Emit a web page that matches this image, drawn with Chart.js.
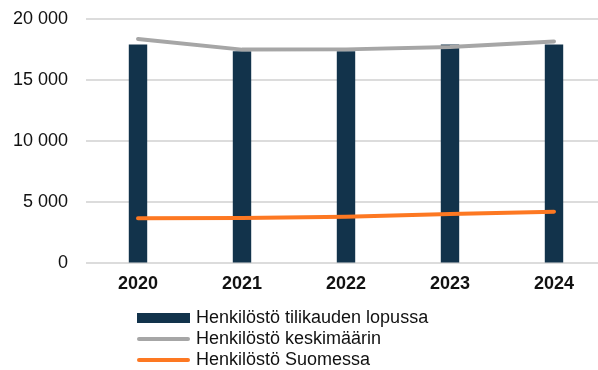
<html>
<head>
  <meta charset="utf-8">
  <script src="https://cdn.jsdelivr.net/npm/chart.js@4.4.1/dist/chart.umd.min.js"></script>
  <style>
    html, body { margin: 0; padding: 0; background: #fff; overflow: hidden; }
    #myChart { display: block; margin-top: -10px; }
  </style>
</head>
<body>
  <canvas id="myChart" style="width:606px;height:380px;"></canvas>
  <script>
    var years = ['2020', '2021', '2022', '2023', '2024']
    var henkilostoLopussa = [17900, 17350, 17350, 17900, 17900]
    var henkilostoKeskimaarin = [18350, 17480, 17500, 17700, 18150]
    var henkilostoSuomessa = [3700, 3710, 3820, 4040, 4230]
    var yTicks = [0, 5000, 10000, 15000, 20000]

    var textColor = '#111'
    var fontFamily = '"Liberation Sans", Arial, sans-serif'

    function thousands(v) {
      return String(v).replace(/\B(?=(\d{3})+(?!\d))/g, ' ')
    }

    // legend as a single left-aligned column under the chart
    var columnLegend = {
      id: 'columnLegend',
      afterDraw: function(chart) {
        var ctx = chart.ctx
        var x = 137, y = 328, row = 21, w = 53
        ctx.save()
        ctx.font = '18px ' + fontFamily
        ctx.textBaseline = 'middle'
        ctx.textAlign = 'left'
        chart.data.datasets.forEach(function(ds, i) {
          var cy = y + i * row
          if (ds.type === 'line') {
            ctx.strokeStyle = ds.borderColor
            ctx.lineWidth = 4
            ctx.lineCap = 'round'
            ctx.beginPath()
            ctx.moveTo(x + 2, cy)
            ctx.lineTo(x + w - 2, cy)
            ctx.stroke()
          } else {
            ctx.fillStyle = ds.backgroundColor
            ctx.fillRect(x, cy - 5, w, 10)
          }
          ctx.fillStyle = textColor
          ctx.fillText(ds.label, x + w + 6, cy)
        })
        ctx.restore()
      }
    }

    var ctx = document.getElementById('myChart').getContext('2d')
    var myChart = new Chart(ctx, {
      type: 'bar',
      data: {
        labels: years,
        datasets: [{
          label: 'Henkilöstö tilikauden lopussa',
          data: henkilostoLopussa,
          backgroundColor: '#12334b',
          categoryPercentage: 1,
          barPercentage: 0.177,
          order: 3
        }, {
          type: 'line',
          label: 'Henkilöstö keskimäärin',
          data: henkilostoKeskimaarin,
          borderColor: '#a6a6a6',
          borderWidth: 4,
          borderCapStyle: 'round',
          borderJoinStyle: 'round',
          pointRadius: 0,
          tension: 0,
          order: 1
        }, {
          type: 'line',
          label: 'Henkilöstö Suomessa',
          data: henkilostoSuomessa,
          borderColor: '#fd7822',
          borderWidth: 4,
          borderCapStyle: 'round',
          borderJoinStyle: 'round',
          pointRadius: 0,
          tension: 0,
          order: 0
        }]
      },
      options: {
        responsive: false,
        animation: false,
        layout: { padding: { top: 0, left: 13, right: 0, bottom: 65 } },
        plugins: {
          legend: { display: false },
          tooltip: { enabled: false }
        },
        scales: {
          x: {
            grid: { display: false, drawTicks: false },
            border: { display: false },
            ticks: {
              padding: 10,
              color: textColor,
              font: { family: fontFamily, size: 18, weight: 'bold' }
            }
          },
          y: {
            min: 0,
            max: 20000,
            afterBuildTicks: function(scale) {
              scale.ticks = yTicks.map(function(v) { return { value: v } })
            },
            afterFit: function(scale) { scale.width = 73 },
            grid: { color: '#dcdcdc', lineWidth: 2, drawTicks: false },
            border: { display: false },
            ticks: {
              padding: 18,
              color: textColor,
              font: { family: fontFamily, size: 18 },
              callback: function(v) { return thousands(v) }
            }
          }
        }
      },
      plugins: [columnLegend]
    })
  </script>
</body>
</html>
